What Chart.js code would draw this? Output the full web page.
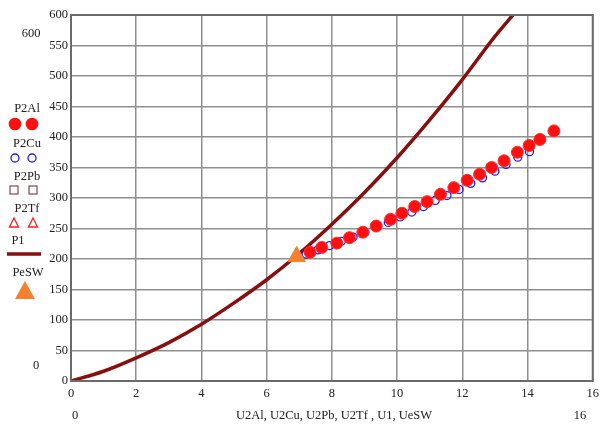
<!DOCTYPE html>
<html>
<head>
<meta charset="utf-8">
<script src="https://cdn.jsdelivr.net/npm/chart.js@4"></script>
<style>
    body { margin: 0; background: #fff; }
    .wrap { position: relative; width: 604px; height: 426px; font-family: "Liberation Serif", serif; color: #222; }
    canvas { position: absolute; left: 0; top: 0; }
    .lbl { position: absolute; font-size: 12.5px; line-height: 14px; white-space: nowrap; transform: translate(-50%, -50%); }
    .mk { position: absolute; }
</style>
</head>
<body>
<div class="wrap">
    <canvas id="resultsChart" width="604" height="426"></canvas>

    <!-- Mathcad style axis limits -->
    <div class="lbl" style="left:31px; top:33px;">600</div>
    <div class="lbl" style="left:36px; top:365px;">0</div>
    <div class="lbl" style="left:75px; top:415px;">0</div>
    <div class="lbl" style="left:580px; top:415px;">16</div>
    <div class="lbl" style="left:334px; top:415px;">U2Al, U2Cu, U2Pb, U2Tf , U1, UeSW</div>

    <!-- legend -->
    <div class="lbl" style="left:27px; top:108px;">P2Al</div>
    <svg class="mk" style="left:6px; top:116px;" width="36" height="16">
        <circle cx="9" cy="8" r="6.3" fill="#ff1010"/><circle cx="26" cy="8" r="6.3" fill="#ff1010"/>
    </svg>
    <div class="lbl" style="left:27px; top:143px;">P2Cu</div>
    <svg class="mk" style="left:6px; top:150px;" width="36" height="16">
        <circle cx="9" cy="8" r="4" fill="none" stroke="#1a1aff" stroke-width="1.3"/><circle cx="26" cy="8" r="4" fill="none" stroke="#1a1aff" stroke-width="1.3"/>
    </svg>
    <div class="lbl" style="left:27px; top:176px;">P2Pb</div>
    <svg class="mk" style="left:6px; top:182px;" width="36" height="16">
        <rect x="4" y="4" width="8" height="8" fill="none" stroke="#7a4a4a" stroke-width="1.2"/><rect x="23" y="4" width="8" height="8" fill="none" stroke="#7a4a4a" stroke-width="1.2"/>
    </svg>
    <div class="lbl" style="left:27px; top:208px;">P2Tf</div>
    <svg class="mk" style="left:6px; top:215px;" width="36" height="16">
        <polygon points="8,3 12.5,12 3.5,12" fill="none" stroke="#ff2020" stroke-width="1.3"/><polygon points="27,3 31.5,12 22.5,12" fill="none" stroke="#ff2020" stroke-width="1.3"/>
    </svg>
    <div class="lbl" style="left:18px; top:240px;">P1</div>
    <svg class="mk" style="left:6px; top:250px;" width="36" height="8">
        <line x1="1" y1="4" x2="35" y2="4" stroke="#861010" stroke-width="3.5"/>
    </svg>
    <div class="lbl" style="left:28px; top:272px;">PeSW</div>
    <svg class="mk" style="left:14px; top:280px;" width="22" height="20">
        <polygon points="11,1 21,19 1,19" fill="#f5812e"/>
    </svg>
</div>
<script>
// P1 curve
const u1 = [0, 1, 2, 3, 4, 5, 6, 7, 8, 9, 10, 11, 12, 13, 13.55];
const p1 = [0, 16, 38, 63, 93, 128, 166, 209, 257, 309, 366, 428, 494, 565, 600];

// measured points
const u2Al = [7.33, 7.69, 8.15, 8.54, 8.95, 9.36, 9.8, 10.15, 10.54, 10.92, 11.33, 11.74, 12.15, 12.53, 12.9, 13.28, 13.69, 14.05, 14.38, 14.81];
const p2Al = [211, 219, 226, 235, 244, 254, 265, 275, 286, 294, 306, 317, 329, 339, 350, 361, 375, 386, 396, 410];

const u2Cu = [7.21, 7.57, 7.93, 8.29, 8.65, 9.01, 9.37, 9.73, 10.09, 10.45, 10.81, 11.17, 11.53, 11.9, 12.26, 12.62, 13.0, 13.34, 13.7, 14.06];
const p2Cu = [208, 215, 222, 229, 236, 244, 252, 260, 269, 277, 286, 296, 304, 314, 324, 333, 344, 355, 367, 376];

const u2Pb = [7.33, 7.69, 8.15, 8.54, 8.95, 9.36, 9.8, 10.15, 10.54, 10.92, 11.33, 11.74, 12.15, 12.53, 12.9, 13.28, 13.69, 14.05];
const p2Pb = [211, 219, 226, 235, 244, 254, 265, 275, 286, 294, 306, 317, 329, 339, 350, 361, 375, 386];

const u2Tf = [7.33, 7.69, 8.15, 8.54, 8.95, 9.36, 9.8, 10.15, 10.54, 10.92, 11.33, 11.74, 12.15, 12.53, 12.9, 13.28, 13.69, 14.05, 14.38, 14.81];
const p2Tf = [211, 219, 226, 235, 244, 254, 265, 275, 286, 294, 306, 317, 329, 339, 350, 361, 375, 386, 396, 410];

const ueSW = [6.92];
const peSW = [204];

const xTicks = [0, 2, 4, 6, 8, 10, 12, 14, 16];
const yTicks = [0, 50, 100, 150, 200, 250, 300, 350, 400, 450, 500, 550, 600];

const pts = (xs, ys) => xs.map((x, i) => ({ x: x, y: ys[i] }));

// dark frame round the plot, like Mathcad
const frame = {
    id: 'frame',
    afterDraw(chart) {
        const a = chart.chartArea, c = chart.ctx;
        c.save();
        c.strokeStyle = '#6a6a6a';
        c.lineWidth = 2;
        c.strokeRect(a.left, a.top, a.right - a.left, a.bottom - a.top);
        c.restore();
    }
};

const tickFont = { family: 'Liberation Serif', size: 12.5 };

const ctx = document.getElementById('resultsChart').getContext('2d');
const resultsChart = new Chart(ctx, {
    type: 'scatter',
    data: {
        datasets: [
            {
                label: 'PeSW',
                data: pts(ueSW, peSW),
                pointStyle: 'triangle',
                pointRadius: 10,
                backgroundColor: '#f5812e',
                borderColor: '#f5812e',
                borderWidth: 1,
                order: 0
            },
            {
                label: 'P2Al',
                data: pts(u2Al, p2Al),
                pointStyle: 'circle',
                pointRadius: 6,
                backgroundColor: '#ff1010',
                borderColor: '#ff3030',
                borderWidth: 1,
                order: 1
            },
            {
                label: 'P2Cu',
                data: pts(u2Cu, p2Cu),
                pointStyle: 'circle',
                pointRadius: 4,
                backgroundColor: 'transparent',
                borderColor: '#1a1aff',
                borderWidth: 1.3,
                order: 2
            },
            {
                label: 'P2Pb',
                data: pts(u2Pb, p2Pb),
                pointStyle: 'rect',
                pointRadius: 3.5,
                backgroundColor: 'transparent',
                borderColor: '#7a4a4a',
                borderWidth: 1.2,
                order: 3
            },
            {
                label: 'P2Tf',
                data: pts(u2Tf, p2Tf),
                pointStyle: 'triangle',
                pointRadius: 4,
                backgroundColor: 'transparent',
                borderColor: '#ff2020',
                borderWidth: 1.2,
                order: 4
            },
            {
                label: 'P1',
                data: pts(u1, p1),
                showLine: true,
                pointRadius: 0,
                borderColor: '#861010',
                borderWidth: 3.5,
                tension: 0.4,
                cubicInterpolationMode: 'monotone',
                order: 5
            }
        ]
    },
    options: {
        responsive: false,
        animation: false,
        layout: { padding: { top: 15, right: 7, left: 0, bottom: 0 } },
        plugins: {
            legend: { display: false },
            tooltip: { enabled: false }
        },
        scales: {
            x: {
                type: 'linear',
                min: 0,
                max: 16,
                afterBuildTicks: s => { s.ticks = xTicks.map(v => ({ value: v })); },
                afterFit: s => { s.height = 45; },
                ticks: { font: tickFont, color: '#222', padding: 5, maxRotation: 0 },
                grid: { color: '#8f8f8f', lineWidth: 1.5, drawTicks: false },
                border: { color: '#6a6a6a', width: 2 }
            },
            y: {
                min: 0,
                max: 600,
                afterBuildTicks: s => { s.ticks = yTicks.map(v => ({ value: v })); },
                afterFit: s => { s.width = 71; },
                ticks: { font: tickFont, color: '#222', padding: 3 },
                grid: { color: '#8f8f8f', lineWidth: 1.5, drawTicks: false },
                border: { color: '#6a6a6a', width: 2 }
            }
        }
    },
    plugins: [frame]
});
</script>
</body>
</html>
